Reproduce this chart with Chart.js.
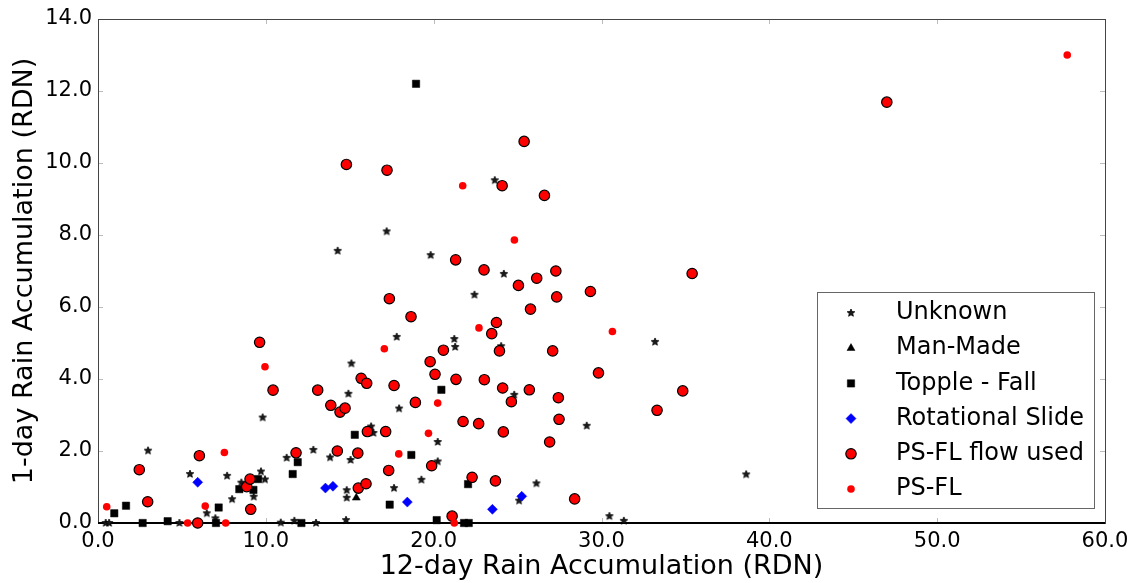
<!DOCTYPE html>
<html>
<head>
<meta charset="utf-8">
<script src="https://cdn.jsdelivr.net/npm/chart.js@4/dist/chart.umd.min.js"></script>
<style>
  html, body { margin: 0; padding: 0; background: #fff; }
  #wrap { width: 1135px; height: 583px; position: relative; }
</style>
</head>
<body>
<div id="wrap"><canvas id="c"></canvas></div>
<script>
// Landslide events: 12-day vs 1-day rain accumulation (RDN), by failure type
const unknownPts = [
  [0.46,0.0],[0.66,0.0],[2.98,2.01],[4.85,0.0],[5.48,1.36],[6.48,0.27],[6.99,0.13],
  [7.69,1.31],[7.99,0.66],[8.54,1.12],[9.28,0.73],[9.71,1.43],[9.95,1.21],[9.81,2.93],
  [10.89,0.01],[11.7,0.06],[12.99,0.0],[11.24,1.81],[12.83,2.03],[13.83,1.82],
  [14.82,0.91],[14.82,0.7],[14.78,0.08],[15.05,1.75],[14.92,3.59],[14.28,7.56],
  [15.1,4.43],[16.27,2.68],[16.41,2.5],[17.2,8.1],[17.94,3.18],[17.8,5.17],[17.64,0.97],
  [19.27,1.2],[19.82,7.44],[20.24,2.25],[20.24,1.71],[21.23,5.11],[21.28,4.89],
  [22.43,6.34],[23.64,9.52],[24.18,6.92],[24.02,4.91],[24.8,3.56],[25.09,0.62],
  [26.12,1.1],[29.12,2.7],[30.47,0.19],[31.33,0.06],[33.19,5.03],[38.62,1.35]
];
const manMadePts = [[15.39,0.7]];
const toppleFallPts = [
  [0.97,0.27],[1.67,0.48],[2.66,0.0],[4.15,0.05],[7.03,0.0],[7.19,0.43],[8.42,0.94],
  [9.26,0.92],[9.54,1.22],[11.6,1.36],[11.9,1.69],[12.12,0.0],[15.3,2.45],[17.38,0.51],
  [18.67,1.89],[18.95,12.2],[20.46,3.7],[20.18,0.08],[21.81,0.0],[22.09,0.0],[22.05,1.08]
];
const rotationalSlidePts = [
  [5.94,1.13],[13.55,0.97],[14.0,1.02],[18.43,0.58],[23.5,0.38],[25.25,0.74]
];
const psflFlowUsedPts = [
  [2.46,1.48],[2.96,0.59],[5.94,0.0],[6.04,1.87],[8.86,1.01],[9.06,1.22],[9.1,0.38],
  [9.63,5.02],[10.43,3.69],[11.8,1.95],[13.09,3.69],[13.87,3.27],[14.26,2.0],[14.42,3.08],
  [14.72,3.19],[14.8,9.96],[15.48,1.94],[15.51,0.97],[15.97,1.09],[15.68,4.02],[16.01,3.88],
  [16.05,2.54],[17.14,2.54],[17.22,9.8],[17.32,1.46],[17.36,6.23],[17.64,3.82],[18.65,5.73],
  [18.91,3.35],[19.79,4.48],[19.88,1.59],[20.08,4.13],[20.58,4.8],[21.1,0.19],[21.31,7.31],
  [21.33,3.99],[21.75,2.82],[22.29,1.27],[22.68,2.76],[23.0,7.03],[23.02,3.98],[23.46,5.26],
  [23.68,1.17],[23.74,5.57],[23.92,4.78],[24.08,9.37],[24.11,3.75],[24.15,2.53],[24.63,3.37],
  [25.05,6.6],[25.39,10.6],[25.7,3.7],[25.77,5.94],[26.14,6.8],[26.6,9.1],[26.91,2.25],
  [27.09,4.78],[27.28,7.0],[27.33,6.28],[27.43,3.48],[27.47,2.88],[28.4,0.67],[29.34,6.43],
  [29.82,4.17],[33.31,3.13],[34.84,3.67],[35.4,6.93],[47.0,11.69]
];
const psflPts = [
  [0.52,0.45],[5.34,0.0],[6.39,0.47],[7.53,1.96],[7.61,0.0],[9.95,4.34],[17.06,4.84],
  [17.92,1.92],[19.69,2.49],[20.24,3.33],[21.23,0.0],[21.73,9.37],[22.7,5.42],[24.81,7.86],
  [30.65,5.32],[57.75,13.0]
];
const seriesNames = ['Unknown','Man-Made','Topple - Fall','Rotational Slide','PS-FL flow used','PS-FL'];
const xTitle = '12-day Rain Accumulation (RDN)';
const yTitle = '1-day Rain Accumulation (RDN)';

const FONT = '"DejaVu Sans", "Liberation Sans", sans-serif';

// filled five-pointed star sprite
function makeStar(outer, inner) {
  const s = Math.ceil(outer * 2 + 4);
  const c = document.createElement('canvas');
  c.width = c.height = s;
  const g = c.getContext('2d');
  g.translate(s / 2, s / 2);
  g.beginPath();
  for (let i = 0; i < 10; i++) {
    const r = i % 2 ? inner : outer;
    const a = -Math.PI / 2 + i * Math.PI / 5;
    if (i === 0) g.moveTo(r * Math.cos(a), r * Math.sin(a));
    else g.lineTo(r * Math.cos(a), r * Math.sin(a));
  }
  g.closePath();
  g.fillStyle = '#1a1a1a';
  g.fill();
  g.lineWidth = 0.8;
  g.strokeStyle = '#000';
  g.stroke();
  return c;
}
const starImg = makeStar(4.0, 1.8);

const toXY = arr => arr.map(p => ({x: p[0], y: p[1]}));

const styles = [
  {pointStyle: starImg, pointRadius: 4, backgroundColor: '#000', borderColor: '#000', borderWidth: 0},
  {pointStyle: 'triangle', pointRadius: 4.6, backgroundColor: '#000', borderColor: '#000', borderWidth: 0.5},
  {pointStyle: 'rect', pointRadius: 5.2, backgroundColor: '#000', borderColor: '#000', borderWidth: 0.5},
  {pointStyle: 'rectRot', pointRadius: 5, backgroundColor: '#0000ff', borderColor: '#0000ff', borderWidth: 0.5},
  {pointStyle: 'circle', pointRadius: 5.2, backgroundColor: '#ff0000', borderColor: '#000', borderWidth: 1.2},
  {pointStyle: 'circle', pointRadius: 3.8, backgroundColor: '#ff0000', borderColor: '#ff0000', borderWidth: 0}
];
const pointSets = [unknownPts, manMadePts, toppleFallPts, rotationalSlidePts, psflFlowUsedPts, psflPts];

const datasets = pointSets.map((pts, i) => Object.assign({
  label: seriesNames[i],
  data: toXY(pts),
  order: pointSets.length - i,
  clip: false,
  pointHoverRadius: styles[i].pointRadius
}, styles[i], {pointBackgroundColor: styles[i].backgroundColor, pointBorderColor: styles[i].borderColor, pointBorderWidth: styles[i].borderWidth}));

// axes frame, inward tick marks
const framePlugin = {
  id: 'frame',
  beforeDatasetsDraw(chart) {
    const {ctx, chartArea: a, scales} = chart;
    ctx.save();
    ctx.strokeStyle = '#bbb';
    ctx.lineWidth = 1;
    ctx.beginPath();
    scales.x.ticks.forEach(t => {
      const px = Math.round(scales.x.getPixelForValue(t.value)) + 0.5;
      ctx.moveTo(px, a.bottom); ctx.lineTo(px, a.bottom - 5);
      ctx.moveTo(px, a.top); ctx.lineTo(px, a.top + 5);
    });
    scales.y.ticks.forEach(t => {
      const py = Math.round(scales.y.getPixelForValue(t.value)) + 0.5;
      ctx.moveTo(a.left, py); ctx.lineTo(a.left + 5, py);
      ctx.moveTo(a.right, py); ctx.lineTo(a.right - 5, py);
    });
    ctx.stroke();
    ctx.strokeStyle = '#444';
    ctx.lineWidth = 1;
    ctx.strokeRect(Math.round(a.left) + 0.5, Math.round(a.top) + 0.5,
                   Math.round(a.right - a.left), Math.round(a.bottom - a.top));
    ctx.strokeStyle = '#000';
    ctx.lineWidth = 2;
    ctx.beginPath();
    ctx.moveTo(a.left, Math.round(a.bottom));
    ctx.lineTo(a.right, Math.round(a.bottom));
    ctx.stroke();
    ctx.restore();
  }
};

// legend box inside the plot area, lower right
function drawMarker(ctx, i, x, y) {
  const s = styles[i];
  const r = s.pointRadius;
  ctx.save();
  ctx.fillStyle = s.backgroundColor;
  ctx.strokeStyle = s.borderColor;
  ctx.lineWidth = s.borderWidth;
  ctx.beginPath();
  if (i === 0) {
    ctx.drawImage(starImg, x - starImg.width / 2, y - starImg.height / 2);
    ctx.restore();
    return;
  } else if (i === 1) {
    ctx.moveTo(x, y - r);
    ctx.lineTo(x + r * Math.sin(2 * Math.PI / 3), y + r / 2);
    ctx.lineTo(x - r * Math.sin(2 * Math.PI / 3), y + r / 2);
    ctx.closePath();
  } else if (i === 2) {
    const h = Math.SQRT1_2 * r;
    ctx.rect(x - h, y - h, 2 * h, 2 * h);
  } else if (i === 3) {
    ctx.moveTo(x - r, y); ctx.lineTo(x, y - r); ctx.lineTo(x + r, y); ctx.lineTo(x, y + r);
    ctx.closePath();
  } else {
    ctx.arc(x, y, r, 0, Math.PI * 2);
  }
  ctx.fill();
  if (s.borderWidth) ctx.stroke();
  ctx.restore();
}
const legendPlugin = {
  id: 'boxLegend',
  afterDraw(chart) {
    const ctx = chart.ctx;
    const box = {x: 817, y: 292, w: 277, h: 216};
    ctx.save();
    ctx.fillStyle = '#fff';
    ctx.fillRect(box.x, box.y, box.w, box.h);
    ctx.strokeStyle = '#666';
    ctx.lineWidth = 1;
    ctx.strokeRect(box.x + 0.5, box.y + 0.5, box.w, box.h);
    ctx.font = '24px ' + FONT;
    ctx.textBaseline = 'middle';
    ctx.textAlign = 'left';
    ctx.fillStyle = '#000';
    seriesNames.forEach((name, i) => {
      const cy = 313 + i * 35.2;
      drawMarker(ctx, i, 851, cy);
      ctx.fillText(name, 896, cy);
    });
    ctx.restore();
  }
};

new Chart(document.getElementById('c'), {
  type: 'scatter',
  data: {datasets},
  plugins: [framePlugin, legendPlugin],
  options: {
    responsive: true,
    maintainAspectRatio: false,
    animation: false,
    events: [],
    layout: {padding: {top: 19, right: 30, left: 0, bottom: 0}},
    plugins: {legend: {display: false}, tooltip: {enabled: false}},
    scales: {
      x: {
        type: 'linear',
        min: 0, max: 60,
        grid: {display: false, drawTicks: false},
        border: {display: false},
        ticks: {
          stepSize: 10, autoSkip: false, maxRotation: 0,
          padding: 6,
          color: '#000',
          font: {family: FONT, size: 21},
          callback: v => v.toFixed(1)
        },
        title: {
          display: true, text: xTitle, color: '#000',
          font: {family: FONT, size: 27, lineHeight: 1.1},
          padding: {top: 0, bottom: 1}
        },
        afterFit: s => { s.height = 60; }
      },
      y: {
        type: 'linear',
        min: 0, max: 14,
        grid: {display: false, drawTicks: false},
        border: {display: false},
        ticks: {
          stepSize: 2, autoSkip: false,
          padding: 6,
          color: '#000',
          font: {family: FONT, size: 21},
          callback: v => v.toFixed(1)
        },
        title: {
          display: true, text: yTitle, color: '#000',
          font: {family: FONT, size: 27, lineHeight: 1.2},
          padding: {top: 9, bottom: 0}
        },
        afterFit: s => { s.width = 98; }
      }
    }
  }
});
</script>
</body>
</html>
